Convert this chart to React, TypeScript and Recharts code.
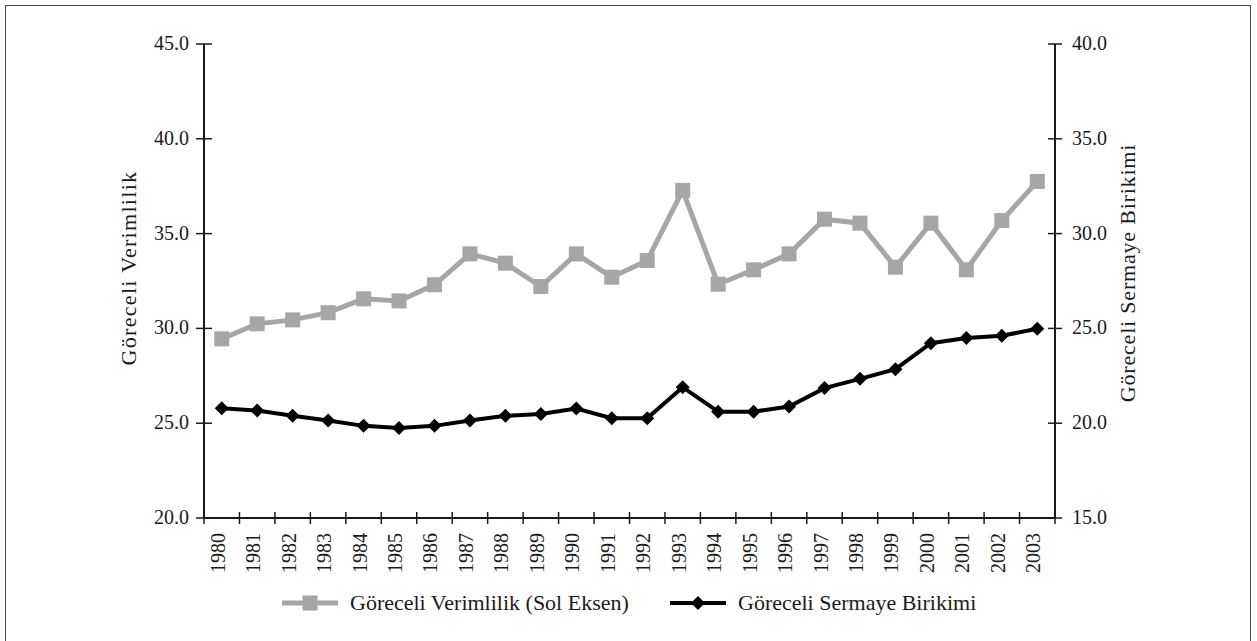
import React from 'react';
import { LineChart, Line, XAxis, YAxis } from 'recharts';

const years = ['1980','1981','1982','1983','1984','1985','1986','1987','1988','1989','1990','1991','1992','1993','1994','1995','1996','1997','1998','1999','2000','2001','2002','2003'];
const productivity = [29.45,30.24,30.45,30.83,31.56,31.45,32.3,33.93,33.44,32.21,33.93,32.7,33.58,37.28,32.33,33.09,33.93,35.76,35.55,33.23,35.55,33.09,35.69,37.75];
const capital = [20.79,20.67,20.39,20.14,19.86,19.75,19.86,20.14,20.39,20.49,20.77,20.26,20.26,21.9,20.61,20.61,20.88,21.85,22.34,22.85,24.22,24.49,24.61,24.98];
const leftTicks = [20,25,30,35,40,45];
const rightTicks = [15,20,25,30,35,40];
const leftTitle = 'Göreceli Verimlilik';
const rightTitle = 'Göreceli Sermaye Birikimi';
const legend1 = 'Göreceli Verimlilik (Sol Eksen)';
const legend2 = 'Göreceli Sermaye Birikimi';

const data = years.map((y, i) => ({ year: y, productivity: productivity[i], capital: capital[i] }));

const W = 1257, H = 641;
const LEFT_W = 204, RIGHT_W = 202, TOP = 44, XAXIS_H = 123;
const BAND = (W - LEFT_W - RIGHT_W) / years.length;
const FONT = '"Liberation Serif", "Times New Roman", serif';
const GRAY = '#a6a6a6';
const INK = '#1a1a1a';
const M = 15;

const XTick = (props: any) => {
  const { x, y, payload, index } = props;
  const axisY = y - M;
  const lines = [<line key="l" x1={x - BAND / 2} x2={x - BAND / 2} y1={axisY - 6} y2={axisY + 6} stroke={INK} strokeWidth={1.5} />];
  if (index === years.length - 1) {
    lines.push(<line key="r" x1={x + BAND / 2} x2={x + BAND / 2} y1={axisY - 6} y2={axisY + 6} stroke={INK} strokeWidth={1.5} />);
  }
  return (
    <g>
      {lines}
      <text transform={`translate(${x + 3},${y}) rotate(-90)`} textAnchor="end" fontFamily={FONT} fontSize={20} fill={INK}>{payload.value}</text>
    </g>
  );
};

const LeftTick = (props: any) => {
  const { x, y, payload } = props;
  const ax = x + M;
  return (
    <g>
      <line x1={ax - 8} x2={ax + 8} y1={y} y2={y} stroke={INK} strokeWidth={1.5} />
      <text x={x} y={y} dy={6} textAnchor="end" fontFamily={FONT} fontSize={20} fill={INK}>{Number(payload.value).toFixed(1)}</text>
    </g>
  );
};

const RightTick = (props: any) => {
  const { x, y, payload } = props;
  const ax = x - M;
  return (
    <g>
      <line x1={ax - 7} x2={ax + 7} y1={y} y2={y} stroke={INK} strokeWidth={1.5} />
      <text x={x + 2} y={y} dy={6} textAnchor="start" fontFamily={FONT} fontSize={20} fill={INK}>{Number(payload.value).toFixed(1)}</text>
    </g>
  );
};

const SquareDot = (props: any) => {
  const { cx, cy, index } = props;
  if (cx == null || cy == null) return <g key={`s${index}`} />;
  return <rect key={`s${index}`} x={cx - 7.5} y={cy - 7.5} width={15} height={15} fill={GRAY} />;
};

const DiamondDot = (props: any) => {
  const { cx, cy, index } = props;
  if (cx == null || cy == null) return <g key={`d${index}`} />;
  return <polygon key={`d${index}`} points={`${cx},${cy - 7} ${cx + 7},${cy} ${cx},${cy + 7} ${cx - 7},${cy}`} fill="#000" />;
};

export default function App() {
  return (
    <div style={{ position: 'absolute', left: 0, top: 0, width: W, height: H, overflow: 'hidden', background: '#fff' }}>
      <div style={{ position: 'absolute', left: 5, top: 5, width: 1246, height: 660, border: '1.5px solid #444', boxSizing: 'border-box' }} />
      <div style={{ position: 'absolute', left: 0, top: 0 }}>
        <LineChart width={W} height={H} data={data} margin={{ top: TOP, right: 0, bottom: 0, left: 0 }}>
          <XAxis dataKey="year" height={XAXIS_H} interval={0} padding={{ left: BAND / 2, right: BAND / 2 }} tick={XTick} tickLine={false} tickSize={0} tickMargin={M} axisLine={{ stroke: INK, strokeWidth: 2 }} />
          <YAxis yAxisId="left" width={LEFT_W} domain={[20, 45]} ticks={leftTicks} type="number" tick={LeftTick} tickLine={false} tickSize={0} tickMargin={M} axisLine={{ stroke: INK, strokeWidth: 2 }} />
          <YAxis yAxisId="right" orientation="right" width={RIGHT_W} domain={[15, 40]} ticks={rightTicks} type="number" tick={RightTick} tickLine={false} tickSize={0} tickMargin={M} axisLine={{ stroke: INK, strokeWidth: 2 }} />
          <Line yAxisId="left" dataKey="productivity" stroke={GRAY} strokeWidth={5} dot={SquareDot} activeDot={false} isAnimationActive={false} />
          <Line yAxisId="right" dataKey="capital" stroke="#000" strokeWidth={4} dot={DiamondDot} activeDot={false} isAnimationActive={false} />
        </LineChart>
      </div>
      <svg width={W} height={H} style={{ position: 'absolute', left: 0, top: 0, pointerEvents: 'none' }}>
        <text transform="translate(136,268) rotate(-90)" textAnchor="middle" fontFamily={FONT} fontSize={22} letterSpacing={1.3} fill={INK}>{leftTitle}</text>
        <text transform="translate(1135,273) rotate(-90)" textAnchor="middle" fontFamily={FONT} fontSize={22} letterSpacing={0.8} fill={INK}>{rightTitle}</text>
        <line x1={282} x2={338} y1={603} y2={603} stroke={GRAY} strokeWidth={5} />
        <rect x={302.5} y={595.5} width={15} height={15} fill={GRAY} />
        <text x={350} y={610} fontFamily={FONT} fontSize={22} fill={INK}>{legend1}</text>
        <line x1={670} x2={726} y1={603} y2={603} stroke="#000" strokeWidth={4} />
        <polygon points="698,596 705,603 698,610 691,603" fill="#000" />
        <text x={738} y={610} fontFamily={FONT} fontSize={22} fill={INK}>{legend2}</text>
      </svg>
    </div>
  );
}
